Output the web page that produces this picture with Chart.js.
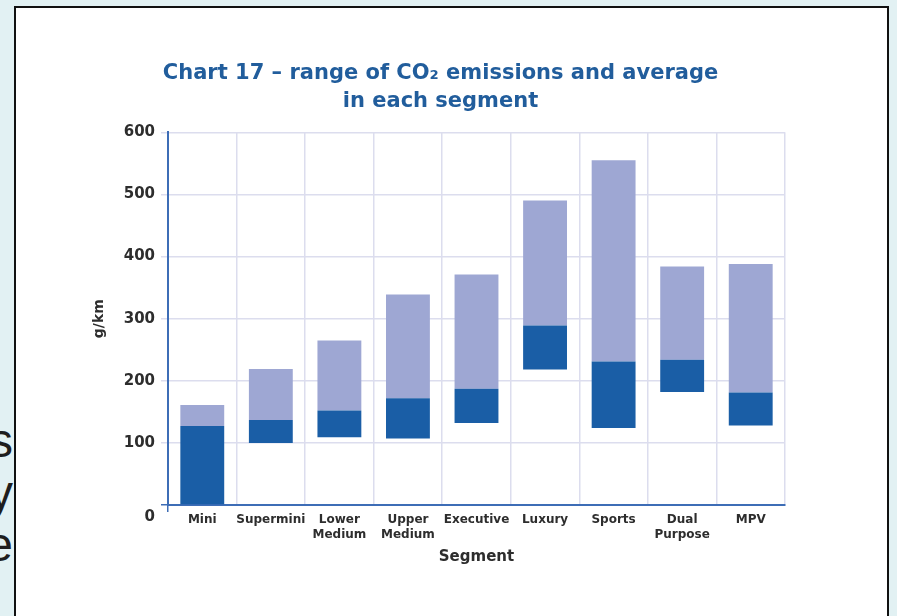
<!DOCTYPE html>
<html>
<head>
<meta charset="utf-8">
<script src="https://cdn.jsdelivr.net/npm/chart.js@4"></script>
<style>
  html, body { margin: 0; padding: 0; width: 897px; height: 616px; overflow: hidden; background: #E2F1F3; position: relative; }
  #side { position: absolute; left: -40px; top: 415px; width: 53px; text-align: right; font: 48px/52px 'Liberation Sans', Arial, sans-serif; color: #1e1e1e; }
  #panel { position: absolute; left: 14px; top: 6px; width: 871px; height: 700px; background: #fff; border: 2px solid #111; }
  #chart { position: absolute; left: 88px; top: 0; }
</style>
</head>
<body>
<div id="side">s<br>y<br>e</div>
<div id="panel"></div>
<canvas id="chart" width="705" height="616"></canvas>
<script>
// Car segments and their CO2 emissions (g/km): lowest, average, highest
const segments = ['Mini', 'Supermini', ['Lower', 'Medium'], ['Upper', 'Medium'], 'Executive', 'Luxury', 'Sports', ['Dual', 'Purpose'], 'MPV'];
const minEmission = [0, 100, 109, 107, 132, 218, 124, 182, 128];
const avgEmission = [127, 137, 152, 172, 187, 289, 231, 234, 181];
const maxEmission = [161, 219, 265, 339, 371, 490, 555, 384, 388];

const titleLines = ['Chart 17 \u2013 range of CO\u2082 emissions and average', 'in each segment'];

const darkBlue = '#1A5EA6';
const lightBlue = '#9EA7D3';
const axisBlue = '#3D6DB6';
const gridColor = '#DCDDEE';
const textColor = '#2D2D2D';

Chart.defaults.font.family = "'DejaVu Sans', Verdana, sans-serif";

new Chart(document.getElementById('chart'), {
  type: 'bar',
  data: {
    labels: segments,
    datasets: [
      {
        label: 'Lowest to average',
        data: segments.map((_, i) => [minEmission[i], avgEmission[i]]),
        backgroundColor: darkBlue,
        borderWidth: 0,
        barPercentage: 0.64,
        categoryPercentage: 1
      },
      {
        label: 'Average to highest',
        data: segments.map((_, i) => [avgEmission[i], maxEmission[i]]),
        backgroundColor: lightBlue,
        borderWidth: 0,
        barPercentage: 0.64,
        categoryPercentage: 1
      }
    ]
  },
  options: {
    responsive: false,
    devicePixelRatio: 1,
    animation: false,
    layout: { padding: { left: 8, right: 8, top: 0, bottom: 0 } },
    plugins: {
      legend: { display: false },
      tooltip: { enabled: false },
      title: {
        display: true,
        text: titleLines,
        color: '#215D9C',
        font: { size: 21, weight: 'bold', lineHeight: 1.34 },
        padding: { top: 59, bottom: 17 }
      }
    },
    scales: {
      x: {
        stacked: true,
        offset: true,
        grid: {
          offset: true,
          color: gridColor,
          lineWidth: 1.5,
          tickLength: 7,
          tickColor: c => (c.index === 0 ? axisBlue : 'rgba(0,0,0,0)')
        },
        border: { color: axisBlue, width: 2 },
        ticks: {
          color: textColor,
          padding: 0,
          maxRotation: 0,
          autoSkip: false,
          font: { size: 12, weight: 'bold', lineHeight: 1.25 }
        },
        title: {
          display: true,
          text: 'Segment',
          color: textColor,
          font: { size: 15, weight: 'bold', lineHeight: 1.2 },
          padding: { top: 0, bottom: 50 }
        },
        afterFit: s => { s.height = 111; }
      },
      y: {
        min: 0,
        max: 600,
        grid: {
          color: gridColor,
          lineWidth: 1.5,
          tickLength: 7,
          tickColor: c => (c.tick && c.tick.value === 0 ? axisBlue : gridColor)
        },
        border: { color: axisBlue, width: 2 },
        ticks: {
          stepSize: 100,
          padding: 6,
          color: textColor,
          font: { size: 15, weight: 'bold', lineHeight: 1.6 },
          // the zero label sits a little below the baseline
          callback: v => (v === 0 ? ['', '0'] : String(v))
        },
        title: {
          display: true,
          text: 'g/km',
          color: textColor,
          font: { size: 14, weight: 'bold', lineHeight: 1.2 },
          padding: { top: -5, bottom: 0 }
        },
        afterFit: s => { s.width = 72; }
      }
    }
  }
});
</script>
</body>
</html>
